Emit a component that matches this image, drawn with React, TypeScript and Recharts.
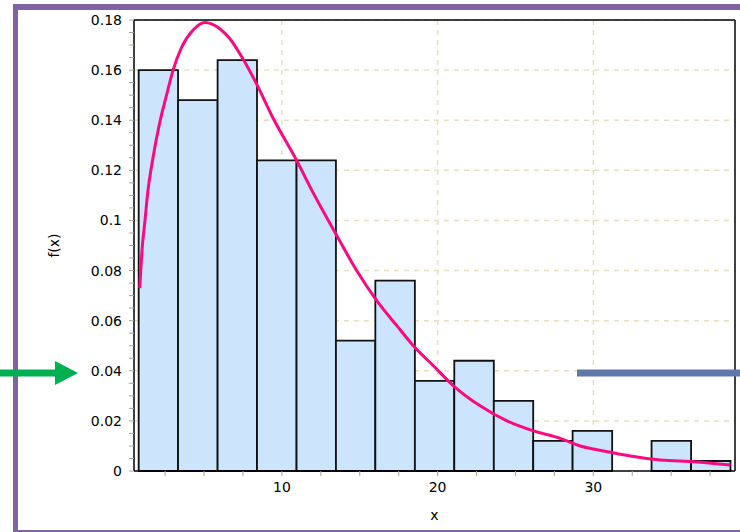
import React from 'react';
import { ComposedChart, Line, XAxis, YAxis, CartesianGrid, ReferenceArea, ReferenceLine } from 'recharts';

// histogram bins (proportions)
const binEdges = [0.8, 3.33, 5.87, 8.4, 10.94, 13.47, 16.0, 18.54, 21.07, 23.61, 26.14, 28.67, 31.21, 33.74, 36.28, 38.81];
const binHeights = [0.16, 0.148, 0.164, 0.124, 0.124, 0.052, 0.076, 0.036, 0.044, 0.028, 0.012, 0.016, 0, 0.012, 0.004];

// fitted density curve
const curveX = [0.87, 1.04, 1.19, 1.38, 1.72, 2.15, 2.59, 3.01, 3.55, 4.3, 5.05, 6.01, 6.66, 7.3, 8.37, 9.42, 10.94, 12.01, 13.52, 14.8, 16.09, 17.38, 18.44, 19.73, 21.02, 22.73, 24.45, 26.16, 27.88, 29.16, 30.66, 32.38, 34.31, 36.45, 38.81];
const curveY = [0.073, 0.09, 0.099, 0.111, 0.125, 0.139, 0.15, 0.16, 0.169, 0.176, 0.179, 0.1765, 0.1725, 0.1665, 0.1545, 0.141, 0.124, 0.111, 0.094, 0.08, 0.068, 0.058, 0.05, 0.042, 0.034, 0.026, 0.02, 0.016, 0.013, 0.01, 0.008, 0.006, 0.0044, 0.0037, 0.0024];

const xTicks = [2.5, 5, 7.5, 10, 12.5, 15, 17.5, 20, 22.5, 25, 27.5, 30, 32.5, 35, 37.5];
const xLabelled = [10, 20, 30];
const yTicks = [0, 0.005, 0.01, 0.015, 0.02, 0.025, 0.03, 0.035, 0.04, 0.045, 0.05, 0.055, 0.06, 0.065, 0.07, 0.075, 0.08, 0.085, 0.09, 0.095, 0.1, 0.105, 0.11, 0.115, 0.12, 0.125, 0.13, 0.135, 0.14, 0.145, 0.15, 0.155, 0.16, 0.165, 0.17, 0.175, 0.18];
const yLabelled = [0, 0.02, 0.04, 0.06, 0.08, 0.1, 0.12, 0.14, 0.16, 0.18];
const xGrid = [10, 20, 30];
const yGrid = [0.02, 0.04, 0.06, 0.08, 0.1, 0.12, 0.14, 0.16, 0.18];

const X_MIN = 0.5;
const X_MAX = 39.1;
const Y_MAX = 0.18;

const FONT = 'DejaVu Sans';
const tickStyle = { fill: '#000', fontSize: 14, fontFamily: FONT };

const curveData = curveX.map((x, i) => ({ x, y: curveY[i] }));

const YLabel = ({ viewBox }: any) => {
  const cx = viewBox.x + 54;
  const cy = viewBox.y + viewBox.height / 2;
  return (
    <text x={cx} y={cy} transform={`rotate(-90 ${cx} ${cy})`} textAnchor="middle" dominantBaseline="central" fontSize={14} fontFamily={FONT} fill="#000">
      f(x)
    </text>
  );
};

export default function App() {
  return (
    <div style={{ position: 'absolute', left: 0, top: 0, width: 740, height: 532, overflow: 'hidden', background: '#fff' }}>
      {/* slide frame */}
      <div
        style={{
          position: 'absolute',
          left: 13,
          top: 4,
          width: 800,
          height: 531,
          boxSizing: 'border-box',
          border: '5px solid #8064a2',
          borderTopWidth: 6,
          background: '#fff',
        }}
      />
      <div style={{ position: 'absolute', left: 0, top: 0 }}>
        <ComposedChart width={740} height={532} data={curveData} margin={{ top: 20, right: 5, bottom: 12, left: 0 }}>
          <CartesianGrid
            horizontal
            vertical
            horizontalValues={yGrid}
            verticalValues={xGrid}
            stroke="#e6dfc4"
            strokeWidth={1.5}
            strokeDasharray="5 5"
          />
          <XAxis
            type="number"
            dataKey="x"
            domain={[X_MIN, X_MAX]}
            allowDataOverflow
            ticks={xTicks}
            interval={0}
            tickFormatter={(v: number) => (xLabelled.includes(v) ? String(v) : '')}
            tick={tickStyle}
            tickSize={5}
            tickMargin={6}
            tickLine={{ stroke: '#a8a28c' }}
            axisLine={{ stroke: '#000', strokeWidth: 1.5 }}
            height={49}
            label={{ value: 'x', position: 'insideBottom', offset: 0, fill: '#000', fontSize: 14, fontFamily: FONT }}
          />
          <YAxis
            type="number"
            domain={[0, Y_MAX]}
            allowDataOverflow
            ticks={yTicks}
            interval={0}
            tickFormatter={(v: number) => (yLabelled.some((t) => Math.abs(t - v) < 1e-9) ? String(Number(v.toFixed(2))) : '')}
            tick={tickStyle}
            tickSize={5}
            tickMargin={7}
            tickLine={{ stroke: '#a8a28c' }}
            axisLine={{ stroke: '#000', strokeWidth: 1.5 }}
            width={134}
            label={<YLabel />}
          />
          {binHeights.map((h, i) =>
            h > 0 ? (
              <ReferenceArea
                key={`bin-${i}`}
                x1={binEdges[i]}
                x2={binEdges[i + 1]}
                y1={0}
                y2={h}
                fill="#cce4fc"
                fillOpacity={1}
                stroke="#111"
                strokeWidth={1.8}
                strokeOpacity={1}
              />
            ) : null
          )}
          <ReferenceLine y={Y_MAX} stroke="#000" strokeWidth={1.5} />
          <ReferenceLine x={X_MAX} stroke="#000" strokeWidth={1.5} />
          <Line
            type="monotone"
            dataKey="y"
            stroke="#fa0a80"
            strokeWidth={3}
            dot={false}
            activeDot={false}
            isAnimationActive={false}
          />
        </ComposedChart>
      </div>
      {/* slide annotations */}
      <svg width={740} height={532} style={{ position: 'absolute', left: 0, top: 0, pointerEvents: 'none' }}>
        <rect x={0} y={369.5} width={56} height={7} fill="#00b050" />
        <polygon points="55,361 78,373 55,385" fill="#00b050" />
        <rect x={577} y={369.5} width={163} height={7} fill="#5d78a9" />
      </svg>
    </div>
  );
}
